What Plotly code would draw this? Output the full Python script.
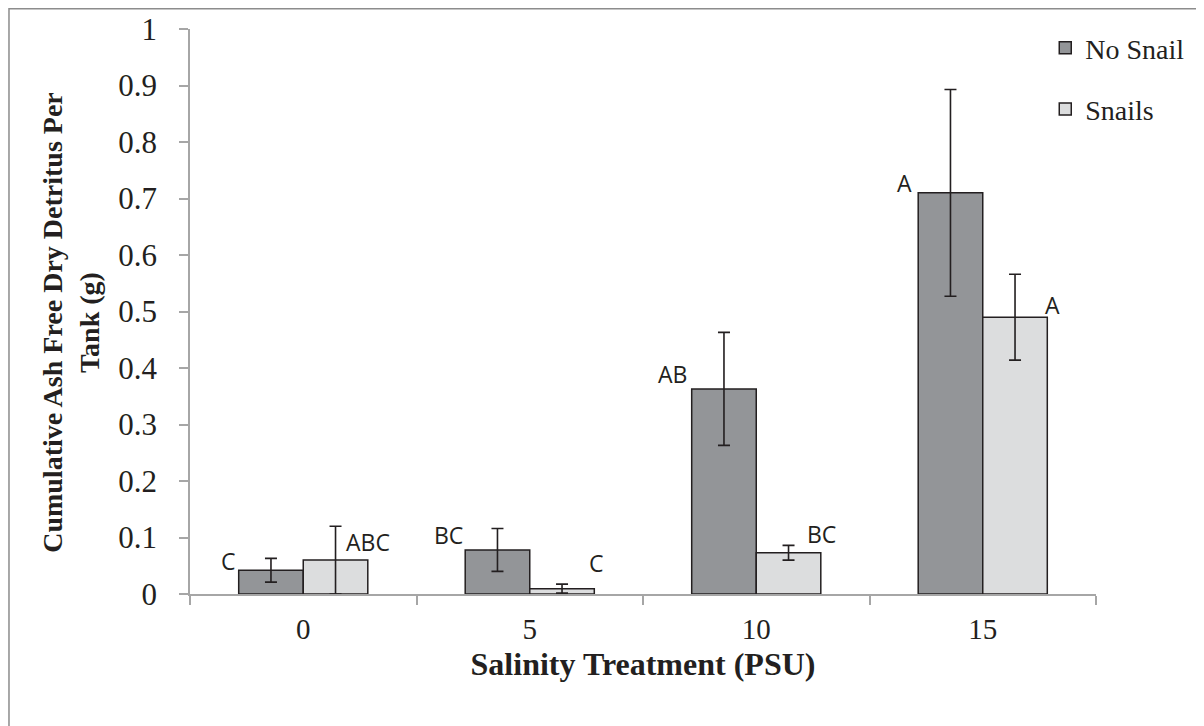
import plotly.graph_objects as go

categories = ["0", "5", "10", "15"]
no_snail = [0.042, 0.078, 0.363, 0.710]
no_snail_err = [0.021, 0.038, 0.100, 0.183]
snails = [0.060, 0.0095, 0.073, 0.490]
snails_err = [0.060, 0.008, 0.013, 0.076]
no_snail_letters = ["C", "BC", "AB", "A"]
snails_letters = ["ABC", "C", "BC", "A"]
y_title = "<b>Cumulative Ash Free Dry Detritus Per<br>Tank (g)</b>"
x_title = "<b>Salinity Treatment (PSU)</b>"

fig = go.Figure()
fig.add_trace(go.Bar(
    x=categories, y=no_snail, name="No Snail",
    marker=dict(color="#939598", line=dict(color="#231f20", width=1.5)),
    error_y=dict(type="data", array=no_snail_err, visible=True,
                 color="#231f20", thickness=1.6, width=6),
    legendgroup="a",
))
fig.add_trace(go.Bar(
    x=categories, y=snails, name="Snails",
    marker=dict(color="#dcddde", line=dict(color="#231f20", width=1.5)),
    error_y=dict(type="data", array=snails_err, visible=True,
                 color="#231f20", thickness=1.6, width=6),
    legendgroup="b",
))

# significance letters
letter_font = dict(family="Open Sans", size=23, color="#231f20")
ns_offsets_x = [-0.33, -0.36, -0.37, -0.345]
ns_offsets_y = [0.017, 0.027, 0.027, 0.018]
sn_offsets_x = [0.285, 0.296, 0.29, 0.31]
sn_offsets_y = [0.032, 0.045, 0.033, 0.022]
for i in range(len(categories)):
    fig.add_annotation(x=i + ns_offsets_x[i], y=no_snail[i] + ns_offsets_y[i],
                       xref="x", yref="y", text=no_snail_letters[i],
                       showarrow=False, font=letter_font)
    fig.add_annotation(x=i + sn_offsets_x[i], y=snails[i] + sn_offsets_y[i],
                       xref="x", yref="y", text=snails_letters[i],
                       showarrow=False, font=letter_font)

# y-axis title as rotated annotation
fig.add_annotation(x=-0.1313, y=0.48, xref="paper", yref="paper",
                   text=y_title, textangle=-90, showarrow=False,
                   xanchor="center", yanchor="middle",
                   font=dict(family="Liberation Serif", size=28, color="#231f20"))

# outer frame
fig.add_shape(type="rect", xref="paper", yref="paper",
              x0=-0.1998, x1=1.2, y0=-0.3, y1=1.0358,
              line=dict(color="#8c8c8c", width=1.5), fillcolor="rgba(0,0,0,0)",
              layer="below")

fig.update_layout(
    width=1204, height=726,
    margin=dict(l=182, r=116, t=21, b=140, autoexpand=False),
    paper_bgcolor="white", plot_bgcolor="white",
    barmode="group", bargap=0.43, bargroupgap=0,
    font=dict(family="Liberation Serif", color="#231f20"),
    showlegend=True,
    legend=dict(x=0.944, y=1.0106, xanchor="left", yanchor="top",
                font=dict(family="Liberation Serif", size=28, color="#231f20"),
                traceorder="grouped", tracegroupgap=22,
                bgcolor="rgba(0,0,0,0)"),
    xaxis=dict(
        type="category",
        title=dict(text=x_title,
                   font=dict(family="Liberation Serif", size=32, color="#231f20"),
                   standoff=9),
        tickfont=dict(family="Liberation Serif", size=29, color="#231f20"),
        ticklabelstandoff=8,
        showline=True, linecolor="#a6a6a6", linewidth=1.5,
        ticks="outside", tickson="boundaries", ticklen=9,
        tickcolor="#a6a6a6", tickwidth=1.5,
        showgrid=False, zeroline=False,
    ),
    yaxis=dict(
        range=[0, 1], tickvals=[0, 0.1, 0.2, 0.3, 0.4, 0.5, 0.6, 0.7, 0.8, 0.9, 1],
        ticktext=["0", "0.1", "0.2", "0.3", "0.4", "0.5", "0.6", "0.7", "0.8", "0.9", "1"],
        tickfont=dict(family="Liberation Serif", size=31, color="#231f20"),
        ticklabelstandoff=16,
        showline=True, linecolor="#a6a6a6", linewidth=1.5,
        ticks="outside", ticklen=9, tickcolor="#a6a6a6", tickwidth=1.5,
        showgrid=False, zeroline=False,
    ),
)

fig.write_html("out.html")
